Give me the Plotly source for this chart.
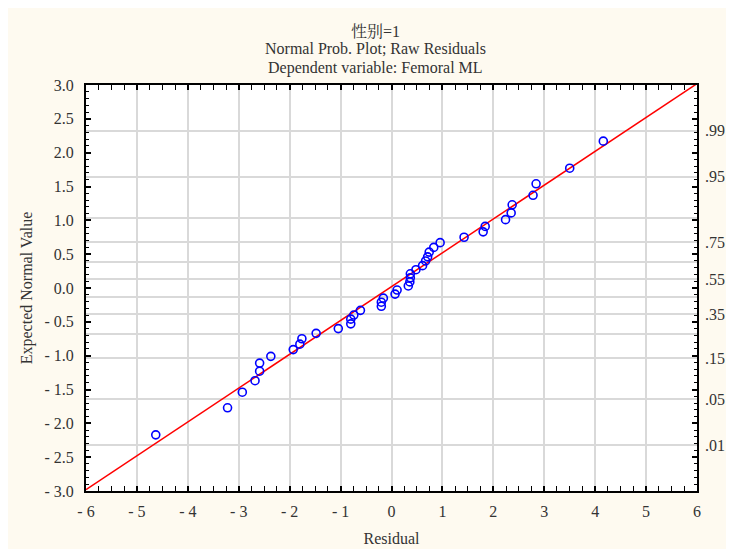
import plotly.graph_objects as go

# ---- data ----
residual = [-4.63, -3.22, -2.93, -2.68, -2.59, -2.59, -2.37, -1.93, -1.80, -1.76,
            -1.48, -1.045, -0.80, -0.80, -0.74, -0.61, -0.20, -0.20, -0.16, 0.07,
            0.11, 0.33, 0.36, 0.37, 0.37, 0.48, 0.61, 0.67, 0.71, 0.74,
            0.83, 0.955, 1.425, 1.80, 1.84, 2.24, 2.35, 2.37, 2.78, 2.84,
            3.50, 4.16]
expected_normal = [-2.17, -1.77, -1.54, -1.37, -1.23, -1.11, -1.01, -0.91, -0.83, -0.75,
                   -0.67, -0.60, -0.53, -0.46, -0.40, -0.33, -0.27, -0.21, -0.15, -0.09,
                   -0.03, 0.03, 0.09, 0.15, 0.21, 0.27, 0.33, 0.40, 0.46, 0.53,
                   0.60, 0.67, 0.75, 0.83, 0.91, 1.01, 1.11, 1.23, 1.37, 1.54,
                   1.77, 2.17]
fit_x = [-6.0, 6.0]
fit_y = [-2.98, 3.02]

x_ticks = [-6, -5, -4, -3, -2, -1, 0, 1, 2, 3, 4, 5, 6]
x_tick_labels = ["- 6", "- 5", "- 4", "- 3", "- 2", "- 1", "0", "1", "2", "3", "4", "5", "6"]
y_ticks = [-3.0, -2.5, -2.0, -1.5, -1.0, -0.5, 0.0, 0.5, 1.0, 1.5, 2.0, 2.5, 3.0]
y_tick_labels = ["- 3.0", "- 2.5", "- 2.0", "- 1.5", "- 1.0", "- 0.5", "0.0",
                 "0.5", "1.0", "1.5", "2.0", "2.5", "3.0"]
prob_vals = [-2.326, -1.645, -1.036, -0.674, -0.385, -0.126, 0.126, 0.385,
             0.674, 1.036, 1.645, 2.326]
prob_labels = [".01", ".05", ".15", "", ".35", "", ".55", "", ".75", "", ".95", ".99"]

title_lines = ["性别=1", "Normal Prob. Plot; Raw Residuals", "Dependent variable: Femoral ML"]

FONT = "Liberation Serif, Noto Serif CJK SC, Noto Sans CJK SC, serif"
TXT = "#333333"
GRID = "#d9d9d9"
FS = 16

T, B = 77, 59
PH = 549 - T - B
# title line centres in figure pixels
title_px = [22.5, 40, 60]
title_line_y = [1 + (T - p) / PH for p in title_px]

fig = go.Figure()
fig.add_trace(go.Scatter(x=fit_x, y=fit_y, mode="lines",
                         line=dict(color="#ff0000", width=1.5),
                         showlegend=False, hoverinfo="skip"))
fig.add_trace(go.Scatter(x=residual, y=expected_normal, mode="markers",
                         marker=dict(symbol="circle-open", color="#0000ff", size=8,
                                     line=dict(width=1.6, color="#0000ff")),
                         showlegend=False))
fig.add_trace(go.Scatter(x=[None], y=[None], yaxis="y2", showlegend=False,
                         hoverinfo="skip"))

annotations = [
    dict(text=t, xref="paper", yref="paper", x=0.473, y=yy, xanchor="center",
         yanchor="middle", showarrow=False, font=dict(family=FONT, size=FS, color=TXT))
    for t, yy in zip(title_lines, title_line_y)
]

fig.update_layout(
    width=734, height=549,
    margin=dict(l=78, r=45, t=T, b=B),
    paper_bgcolor="#fefaf0",
    plot_bgcolor="white",
    font=dict(family=FONT, size=FS, color=TXT),
    annotations=annotations,
    xaxis=dict(range=[-6, 6], tickmode="array", tickvals=x_ticks, ticktext=x_tick_labels,
               ticks="inside", ticklen=5, tickwidth=1.5, tickcolor="black",
               showline=True, linecolor="black", linewidth=2, mirror="allticks",
               showgrid=True, gridcolor=GRID, gridwidth=1.5, zeroline=False,
               ticklabelstandoff=5,
               minor=dict(dtick=0.25, ticks="inside", ticklen=3, tickwidth=1.2,
                          tickcolor="black", showgrid=False),
               title=dict(text="Residual", standoff=14, font=dict(family=FONT, size=FS, color=TXT)),
               tickfont=dict(family=FONT, size=FS, color=TXT)),
    yaxis=dict(range=[-3, 3], tickmode="array", tickvals=y_ticks, ticktext=y_tick_labels,
               ticks="inside", ticklen=5, tickwidth=1.5, tickcolor="black",
               showline=True, linecolor="black", linewidth=2, mirror="allticks",
               showgrid=False, zeroline=False, ticklabelstandoff=7,
               minor=dict(dtick=0.1, ticks="inside", ticklen=3, tickwidth=1.2,
                          tickcolor="black", showgrid=False),
               title=dict(text="Expected Normal Value", standoff=8,
                          font=dict(family=FONT, size=FS, color=TXT)),
               tickfont=dict(family=FONT, size=FS, color=TXT)),
    yaxis2=dict(range=[-3, 3], overlaying="y", side="right", tickmode="array",
                tickvals=prob_vals, ticktext=prob_labels, ticks="",
                showgrid=True, gridcolor=GRID, gridwidth=1.5, zeroline=False,
                showline=False, ticklabelstandoff=7,
                tickfont=dict(family=FONT, size=FS, color=TXT)),
)

fig.write_html("out.html")
